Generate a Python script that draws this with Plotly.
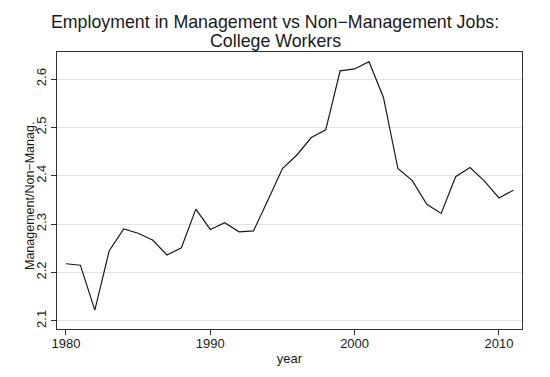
import plotly.graph_objects as go

years = list(range(1980, 2012))
ratio = [2.218, 2.215, 2.122, 2.245, 2.290, 2.281, 2.267, 2.236, 2.251, 2.331,
         2.289, 2.303, 2.284, 2.286, 2.350, 2.415, 2.443, 2.479, 2.495, 2.617,
         2.621, 2.636, 2.562, 2.415, 2.390, 2.341, 2.322, 2.398, 2.417, 2.389,
         2.354, 2.370]

x_ticks = [1980, 1990, 2000, 2010]
y_ticks = [2.1, 2.2, 2.3, 2.4, 2.5, 2.6]
title_lines = ["Employment in Management vs Non\u2212Management Jobs:", "College Workers"]
y_title = "Management/Non\u2212Manag."

fig = go.Figure(go.Scatter(x=years, y=ratio, mode="lines",
                           line=dict(color="#1a1a1a", width=1.2)))

font = "Liberation Sans, Arial, sans-serif"
W, H = 550, 377
L, R, T, B = 57, 28, 52, 48
pw, ph = W - L - R, H - T - B
fig.update_layout(
    width=W, height=H,
    margin=dict(l=L, r=R, t=T, b=B, autoexpand=False),
    paper_bgcolor="white", plot_bgcolor="white",
    font=dict(family=font, color="#1a1a1a", size=13),
    showlegend=False,
    title=dict(text=title_lines[0], x=0.5, xanchor="center", xref="container",
               yref="container", y=1 - 22 / H, yanchor="middle",
               font=dict(size=17.8, family=font, color="#1a1a1a")),
    annotations=[
        dict(text=title_lines[1], xref="paper", yref="paper", x=(W / 2 - L) / pw, y=1,
             xanchor="center", yanchor="middle", yshift=11, showarrow=False,
             font=dict(size=17.8, family=font, color="#1a1a1a")),
        dict(text=y_title, xref="paper", yref="paper", x=(30 - L) / pw, y=(H - B - 196) / ph,
             xanchor="center", yanchor="middle", textangle=-90, showarrow=False,
             font=dict(size=12.5, family=font, color="#1a1a1a")),
    ],
)
fig.update_xaxes(range=[1979.38, 2011.6], tickvals=x_ticks, ticks="outside", ticklen=5,
                 tickcolor="#333", showline=True, linecolor="#333", linewidth=1, mirror=True,
                 showgrid=False, zeroline=False, automargin=False, ticklabelstandoff=-3,
                 title=dict(text="year", font=dict(size=13), standoff=4),
                 tickfont=dict(size=13))
fig.update_yaxes(range=[2.083, 2.656], tickvals=y_ticks, ticktext=[f"{v:.1f}" for v in y_ticks],
                 ticks="outside", ticklen=5, tickcolor="#333", tickangle=-90,
                 showline=True, linecolor="#333", linewidth=1, mirror=True,
                 showgrid=True, gridcolor="#e3e3e3", gridwidth=1, zeroline=False, automargin=False,
                 tickfont=dict(size=13))

fig.write_html("out.html", post_script="document.body.style.margin='0';",
               config={"displayModeBar": False})
